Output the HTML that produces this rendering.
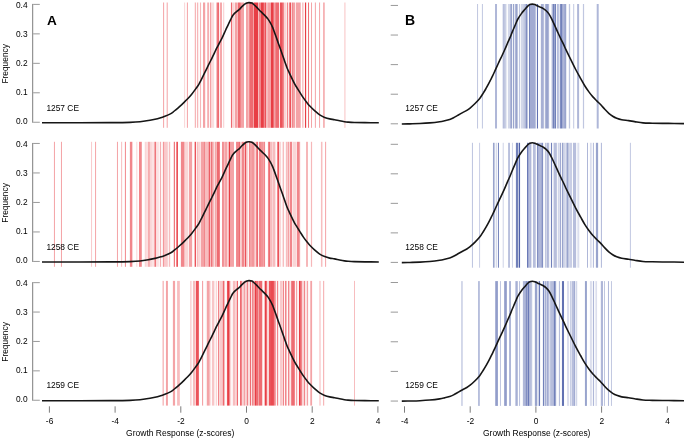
<!DOCTYPE html>
<html lang="en"><head><meta charset="utf-8"><title>Growth response distributions</title>
<style>html,body{margin:0;padding:0;background:#fff;overflow:hidden}svg{display:block;will-change:transform}</style></head>
<body>
<svg width="685" height="439" viewBox="0 0 685 439" font-family="Liberation Sans, Arial, Helvetica, sans-serif">
<rect width="685" height="439" fill="#fff"/>
<g fill="#e5232b"><rect x="163.10" y="2.50" width="1.00" height="125.30" fill-opacity="0.42"/><rect x="166.70" y="2.50" width="1.00" height="125.30" fill-opacity="0.42"/><rect x="184.10" y="2.50" width="1.00" height="125.30" fill-opacity="0.19"/><rect x="186.90" y="2.50" width="1.00" height="125.30" fill-opacity="0.42"/><rect x="194.80" y="2.50" width="1.00" height="125.30" fill-opacity="0.42"/><rect x="196.95" y="2.50" width="1.30" height="125.30" fill-opacity="0.33"/><rect x="199.95" y="2.50" width="1.10" height="125.30" fill-opacity="0.33"/><rect x="203.00" y="2.50" width="2.20" height="125.30" fill-opacity="0.42"/><rect x="207.20" y="2.50" width="1.80" height="125.30" fill-opacity="0.37"/><rect x="209.90" y="2.50" width="1.20" height="125.30" fill-opacity="0.42"/><rect x="211.10" y="2.50" width="3.00" height="125.30" fill-opacity="0.15"/><rect x="216.05" y="2.50" width="0.90" height="125.30" fill-opacity="0.30"/><rect x="217.10" y="2.50" width="2.00" height="125.30" fill-opacity="0.67"/><rect x="220.05" y="2.50" width="1.90" height="125.30" fill-opacity="0.42"/><rect x="222.95" y="2.50" width="1.30" height="125.30" fill-opacity="0.19"/><rect x="230.00" y="2.50" width="1.00" height="125.30" fill-opacity="0.04"/><rect x="231.00" y="2.50" width="1.00" height="125.30" fill-opacity="0.67"/><rect x="232.00" y="2.50" width="1.00" height="125.30" fill-opacity="0.19"/><rect x="233.00" y="2.50" width="1.00" height="125.30" fill-opacity="0.19"/><rect x="234.00" y="2.50" width="1.00" height="125.30" fill-opacity="0.13"/><rect x="235.00" y="2.50" width="1.00" height="125.30" fill-opacity="0.42"/><rect x="236.00" y="2.50" width="1.00" height="125.30" fill-opacity="0.42"/><rect x="237.00" y="2.50" width="1.00" height="125.30" fill-opacity="0.30"/><rect x="238.00" y="2.50" width="1.00" height="125.30" fill-opacity="0.67"/><rect x="239.00" y="2.50" width="1.00" height="125.30" fill-opacity="0.67"/><rect x="240.00" y="2.50" width="1.00" height="125.30" fill-opacity="0.55"/><rect x="241.00" y="2.50" width="1.00" height="125.30" fill-opacity="0.42"/><rect x="242.00" y="2.50" width="1.00" height="125.30" fill-opacity="0.42"/><rect x="243.00" y="2.50" width="1.00" height="125.30" fill-opacity="0.42"/><rect x="246.00" y="2.50" width="1.00" height="125.30" fill-opacity="0.42"/><rect x="247.00" y="2.50" width="1.00" height="125.30" fill-opacity="0.42"/><rect x="248.00" y="2.50" width="1.00" height="125.30" fill-opacity="0.30"/><rect x="249.00" y="2.50" width="1.00" height="125.30" fill-opacity="0.55"/><rect x="250.00" y="2.50" width="1.00" height="125.30" fill-opacity="0.67"/><rect x="251.00" y="2.50" width="1.00" height="125.30" fill-opacity="0.67"/><rect x="252.00" y="2.50" width="1.00" height="125.30" fill-opacity="0.67"/><rect x="253.00" y="2.50" width="1.00" height="125.30" fill-opacity="0.42"/><rect x="254.00" y="2.50" width="1.00" height="125.30" fill-opacity="0.88"/><rect x="255.00" y="2.50" width="1.00" height="125.30" fill-opacity="0.88"/><rect x="256.00" y="2.50" width="1.00" height="125.30" fill-opacity="0.88"/><rect x="257.00" y="2.50" width="1.00" height="125.30" fill-opacity="0.88"/><rect x="258.00" y="2.50" width="1.00" height="125.30" fill-opacity="0.30"/><rect x="259.00" y="2.50" width="1.00" height="125.30" fill-opacity="0.55"/><rect x="260.00" y="2.50" width="1.00" height="125.30" fill-opacity="0.55"/><rect x="261.00" y="2.50" width="1.00" height="125.30" fill-opacity="0.88"/><rect x="262.00" y="2.50" width="1.00" height="125.30" fill-opacity="0.88"/><rect x="263.00" y="2.50" width="1.00" height="125.30" fill-opacity="0.78"/><rect x="264.00" y="2.50" width="1.00" height="125.30" fill-opacity="0.55"/><rect x="265.00" y="2.50" width="1.00" height="125.30" fill-opacity="0.78"/><rect x="266.00" y="2.50" width="1.00" height="125.30" fill-opacity="0.30"/><rect x="267.00" y="2.50" width="1.00" height="125.30" fill-opacity="0.30"/><rect x="268.00" y="2.50" width="1.00" height="125.30" fill-opacity="0.42"/><rect x="269.00" y="2.50" width="1.00" height="125.30" fill-opacity="0.42"/><rect x="270.00" y="2.50" width="1.00" height="125.30" fill-opacity="0.42"/><rect x="271.00" y="2.50" width="1.00" height="125.30" fill-opacity="0.88"/><rect x="272.00" y="2.50" width="1.00" height="125.30" fill-opacity="0.88"/><rect x="273.00" y="2.50" width="1.00" height="125.30" fill-opacity="0.67"/><rect x="274.00" y="2.50" width="1.00" height="125.30" fill-opacity="0.42"/><rect x="275.00" y="2.50" width="1.00" height="125.30" fill-opacity="0.55"/><rect x="276.00" y="2.50" width="1.00" height="125.30" fill-opacity="0.67"/><rect x="277.00" y="2.50" width="1.00" height="125.30" fill-opacity="0.67"/><rect x="278.00" y="2.50" width="1.00" height="125.30" fill-opacity="0.67"/><rect x="279.00" y="2.50" width="1.00" height="125.30" fill-opacity="0.10"/><rect x="280.00" y="2.50" width="1.00" height="125.30" fill-opacity="0.78"/><rect x="281.00" y="2.50" width="1.00" height="125.30" fill-opacity="0.78"/><rect x="282.00" y="2.50" width="1.00" height="125.30" fill-opacity="0.67"/><rect x="283.00" y="2.50" width="1.00" height="125.30" fill-opacity="0.55"/><rect x="284.00" y="2.50" width="1.00" height="125.30" fill-opacity="0.19"/><rect x="285.00" y="2.50" width="1.00" height="125.30" fill-opacity="0.19"/><rect x="286.00" y="2.50" width="1.00" height="125.30" fill-opacity="0.10"/><rect x="287.00" y="2.50" width="1.00" height="125.30" fill-opacity="0.55"/><rect x="288.00" y="2.50" width="1.00" height="125.30" fill-opacity="0.10"/><rect x="289.00" y="2.50" width="1.00" height="125.30" fill-opacity="0.55"/><rect x="290.00" y="2.50" width="1.00" height="125.30" fill-opacity="0.78"/><rect x="291.00" y="2.50" width="1.00" height="125.30" fill-opacity="0.19"/><rect x="292.00" y="2.50" width="1.00" height="125.30" fill-opacity="0.55"/><rect x="293.00" y="2.50" width="1.00" height="125.30" fill-opacity="0.42"/><rect x="294.00" y="2.50" width="1.00" height="125.30" fill-opacity="0.42"/><rect x="295.00" y="2.50" width="1.00" height="125.30" fill-opacity="0.10"/><rect x="296.00" y="2.50" width="1.00" height="125.30" fill-opacity="0.42"/><rect x="297.00" y="2.50" width="1.00" height="125.30" fill-opacity="0.42"/><rect x="298.00" y="2.50" width="1.00" height="125.30" fill-opacity="0.42"/><rect x="299.00" y="2.50" width="1.00" height="125.30" fill-opacity="0.42"/><rect x="300.00" y="2.50" width="1.00" height="125.30" fill-opacity="0.30"/><rect x="302.38" y="2.50" width="1.00" height="125.30" fill-opacity="0.42"/><rect x="304.96" y="2.50" width="1.20" height="125.30" fill-opacity="0.88"/><rect x="308.04" y="2.50" width="1.00" height="125.30" fill-opacity="0.67"/><rect x="311.02" y="2.50" width="1.00" height="125.30" fill-opacity="0.42"/><rect x="314.89" y="2.50" width="1.00" height="125.30" fill-opacity="0.42"/><rect x="319.07" y="2.50" width="1.00" height="125.30" fill-opacity="0.42"/><rect x="323.18" y="2.50" width="1.50" height="125.30" fill-opacity="0.42"/><rect x="344.14" y="2.50" width="1.50" height="125.30" fill-opacity="0.19"/></g>
<text x="27.6" y="124.05" font-size="8.4" text-anchor="end" fill="#000">0.0</text>
<text x="27.6" y="95.05" font-size="8.4" text-anchor="end" fill="#000">0.1</text>
<text x="27.6" y="66.05" font-size="8.4" text-anchor="end" fill="#000">0.2</text>
<text x="27.6" y="37.04" font-size="8.4" text-anchor="end" fill="#000">0.3</text>
<text x="27.6" y="8.04" font-size="8.4" text-anchor="end" fill="#000">0.4</text>
<path d="M33.2 122.25H39.8M33.2 92.79H39.8M33.2 63.33H39.8M33.2 33.86H39.8M33.2 4.40H39.8" stroke="#9a9a9a" stroke-width="1" fill="none"/>
<path d="M32.7 3.90V122.75" stroke="#7d7d7d" stroke-width="1" fill="none"/>
<text transform="translate(8.0 63.83) rotate(-90)" font-size="8.4" text-anchor="middle" fill="#000">Frequency</text>
<path d="M42.00 122.75C48.33 122.75 68.67 122.77 80.00 122.75C91.33 122.73 101.67 122.71 110.00 122.65C118.33 122.59 125.00 122.54 130.00 122.40C135.00 122.26 136.67 122.17 140.00 121.80C143.33 121.43 147.50 120.63 150.00 120.20C152.50 119.77 153.35 119.58 155.00 119.20C156.65 118.82 158.25 118.40 159.90 117.90C161.55 117.40 163.23 116.83 164.90 116.20C166.57 115.57 168.58 114.75 169.90 114.10C171.22 113.45 171.82 113.02 172.80 112.30C173.78 111.58 174.63 110.80 175.80 109.80C176.97 108.80 178.47 107.50 179.80 106.30C181.13 105.10 182.48 103.85 183.80 102.60C185.12 101.35 186.38 100.20 187.70 98.80C189.02 97.40 190.37 95.85 191.70 94.20C193.03 92.55 194.53 90.50 195.70 88.90C196.87 87.30 197.87 85.95 198.70 84.60C199.53 83.25 199.92 82.33 200.70 80.80C201.48 79.27 202.53 77.13 203.40 75.40C204.27 73.67 205.07 72.10 205.90 70.40C206.73 68.70 207.50 67.03 208.40 65.20C209.30 63.37 210.37 61.28 211.30 59.40C212.23 57.52 213.15 55.68 214.00 53.90C214.85 52.12 215.58 50.35 216.40 48.70C217.22 47.05 217.98 45.72 218.90 44.00C219.82 42.28 220.98 40.25 221.90 38.40C222.82 36.55 223.57 34.73 224.40 32.90C225.23 31.07 226.07 29.18 226.90 27.40C227.73 25.62 228.65 23.77 229.40 22.20C230.15 20.63 230.87 19.07 231.40 18.00C231.93 16.93 232.08 16.57 232.60 15.80C233.12 15.03 233.77 14.17 234.50 13.40C235.23 12.63 236.18 11.87 237.00 11.20C237.82 10.53 238.58 10.17 239.40 9.40C240.22 8.63 241.07 7.45 241.90 6.60C242.73 5.75 243.57 4.92 244.40 4.30C245.23 3.68 246.12 3.18 246.90 2.90C247.68 2.62 248.27 2.57 249.10 2.60C249.93 2.63 251.03 2.70 251.90 3.10C252.77 3.50 253.48 4.28 254.30 5.00C255.12 5.72 255.95 6.53 256.80 7.40C257.65 8.27 258.50 9.28 259.40 10.20C260.30 11.12 261.27 12.00 262.20 12.90C263.13 13.80 264.05 14.60 265.00 15.60C265.95 16.60 267.00 17.68 267.90 18.90C268.80 20.12 269.65 21.57 270.40 22.90C271.15 24.23 271.85 25.68 272.40 26.90C272.95 28.12 273.10 28.60 273.70 30.20C274.30 31.80 275.22 34.30 276.00 36.50C276.78 38.70 277.65 41.28 278.40 43.40C279.15 45.52 279.82 47.28 280.50 49.20C281.18 51.12 281.77 52.78 282.50 54.90C283.23 57.02 284.12 59.67 284.90 61.90C285.68 64.13 286.45 66.43 287.20 68.30C287.95 70.17 288.53 71.25 289.40 73.10C290.27 74.95 291.48 77.52 292.40 79.40C293.32 81.28 294.22 83.13 294.90 84.40C295.58 85.67 295.67 85.67 296.50 87.00C297.33 88.33 298.75 90.58 299.90 92.40C301.05 94.22 302.23 96.20 303.40 97.90C304.57 99.60 305.83 101.25 306.90 102.60C307.97 103.95 308.48 104.62 309.80 106.00C311.12 107.38 313.15 109.42 314.80 110.90C316.45 112.38 318.05 113.82 319.70 114.90C321.35 115.98 323.03 116.73 324.70 117.40C326.37 118.07 328.05 118.52 329.70 118.90C331.35 119.28 332.95 119.38 334.60 119.70C336.25 120.02 337.95 120.47 339.60 120.80C341.25 121.13 343.10 121.48 344.50 121.70C345.90 121.92 346.37 121.97 348.00 122.10C349.63 122.22 351.47 122.36 354.30 122.45C357.13 122.54 360.92 122.60 365.00 122.65C369.08 122.70 376.50 122.73 378.80 122.75" stroke="#161616" stroke-width="1.6" fill="none" stroke-linejoin="round"/>
<text x="46.4" y="110.90" font-size="8.4" fill="#000">1257 CE</text>
<g fill="#3c50a0"><rect x="477.05" y="4.00" width="1.00" height="124.50" fill-opacity="0.32"/><rect x="481.91" y="4.00" width="1.00" height="124.50" fill-opacity="0.32"/><rect x="495.02" y="4.00" width="1.99" height="124.50" fill-opacity="0.41"/><rect x="502.00" y="4.00" width="1.00" height="124.50" fill-opacity="0.12"/><rect x="503.00" y="4.00" width="1.00" height="124.50" fill-opacity="0.37"/><rect x="504.00" y="4.00" width="1.00" height="124.50" fill-opacity="0.32"/><rect x="505.00" y="4.00" width="1.00" height="124.50" fill-opacity="0.27"/><rect x="506.00" y="4.00" width="1.00" height="124.50" fill-opacity="0.12"/><rect x="507.00" y="4.00" width="1.00" height="124.50" fill-opacity="0.02"/><rect x="508.00" y="4.00" width="1.00" height="124.50" fill-opacity="0.23"/><rect x="509.00" y="4.00" width="1.00" height="124.50" fill-opacity="0.23"/><rect x="510.00" y="4.00" width="1.00" height="124.50" fill-opacity="0.41"/><rect x="511.00" y="4.00" width="1.00" height="124.50" fill-opacity="0.52"/><rect x="512.00" y="4.00" width="1.00" height="124.50" fill-opacity="0.07"/><rect x="513.00" y="4.00" width="1.00" height="124.50" fill-opacity="0.52"/><rect x="514.00" y="4.00" width="1.00" height="124.50" fill-opacity="0.12"/><rect x="515.00" y="4.00" width="1.00" height="124.50" fill-opacity="0.41"/><rect x="516.00" y="4.00" width="1.00" height="124.50" fill-opacity="0.52"/><rect x="517.00" y="4.00" width="1.00" height="124.50" fill-opacity="0.32"/><rect x="518.00" y="4.00" width="1.00" height="124.50" fill-opacity="0.02"/><rect x="519.00" y="4.00" width="1.00" height="124.50" fill-opacity="0.32"/><rect x="520.00" y="4.00" width="1.00" height="124.50" fill-opacity="0.05"/><rect x="521.00" y="4.00" width="1.00" height="124.50" fill-opacity="0.23"/><rect x="522.00" y="4.00" width="1.00" height="124.50" fill-opacity="0.23"/><rect x="523.00" y="4.00" width="1.00" height="124.50" fill-opacity="0.27"/><rect x="524.00" y="4.00" width="1.00" height="124.50" fill-opacity="0.32"/><rect x="525.00" y="4.00" width="1.00" height="124.50" fill-opacity="0.41"/><rect x="526.00" y="4.00" width="1.00" height="124.50" fill-opacity="0.64"/><rect x="527.00" y="4.00" width="1.00" height="124.50" fill-opacity="0.32"/><rect x="528.00" y="4.00" width="1.00" height="124.50" fill-opacity="0.02"/><rect x="529.00" y="4.00" width="1.00" height="124.50" fill-opacity="0.72"/><rect x="530.00" y="4.00" width="1.00" height="124.50" fill-opacity="0.48"/><rect x="531.00" y="4.00" width="1.00" height="124.50" fill-opacity="0.48"/><rect x="532.00" y="4.00" width="1.00" height="124.50" fill-opacity="0.48"/><rect x="533.00" y="4.00" width="1.00" height="124.50" fill-opacity="0.48"/><rect x="534.00" y="4.00" width="1.00" height="124.50" fill-opacity="0.48"/><rect x="535.00" y="4.00" width="1.00" height="124.50" fill-opacity="0.32"/><rect x="536.00" y="4.00" width="1.00" height="124.50" fill-opacity="0.07"/><rect x="537.00" y="4.00" width="1.00" height="124.50" fill-opacity="0.81"/><rect x="538.00" y="4.00" width="1.00" height="124.50" fill-opacity="0.02"/><rect x="540.00" y="4.00" width="1.00" height="124.50" fill-opacity="0.07"/><rect x="541.00" y="4.00" width="1.00" height="124.50" fill-opacity="0.45"/><rect x="542.00" y="4.00" width="1.00" height="124.50" fill-opacity="0.45"/><rect x="543.00" y="4.00" width="1.00" height="124.50" fill-opacity="0.37"/><rect x="544.00" y="4.00" width="1.00" height="124.50" fill-opacity="0.07"/><rect x="545.00" y="4.00" width="1.00" height="124.50" fill-opacity="0.41"/><rect x="546.00" y="4.00" width="1.00" height="124.50" fill-opacity="0.52"/><rect x="547.00" y="4.00" width="1.00" height="124.50" fill-opacity="0.52"/><rect x="548.00" y="4.00" width="1.00" height="124.50" fill-opacity="0.41"/><rect x="549.00" y="4.00" width="1.00" height="124.50" fill-opacity="0.05"/><rect x="551.00" y="4.00" width="1.00" height="124.50" fill-opacity="0.16"/><rect x="552.00" y="4.00" width="1.00" height="124.50" fill-opacity="0.41"/><rect x="553.00" y="4.00" width="1.00" height="124.50" fill-opacity="0.72"/><rect x="554.00" y="4.00" width="1.00" height="124.50" fill-opacity="0.52"/><rect x="555.00" y="4.00" width="1.00" height="124.50" fill-opacity="0.72"/><rect x="556.00" y="4.00" width="1.00" height="124.50" fill-opacity="0.05"/><rect x="557.00" y="4.00" width="1.00" height="124.50" fill-opacity="0.37"/><rect x="558.00" y="4.00" width="1.00" height="124.50" fill-opacity="0.32"/><rect x="559.00" y="4.00" width="1.00" height="124.50" fill-opacity="0.16"/><rect x="560.00" y="4.00" width="1.00" height="124.50" fill-opacity="0.64"/><rect x="561.00" y="4.00" width="1.00" height="124.50" fill-opacity="0.72"/><rect x="562.00" y="4.00" width="1.00" height="124.50" fill-opacity="0.48"/><rect x="563.00" y="4.00" width="1.00" height="124.50" fill-opacity="0.41"/><rect x="564.00" y="4.00" width="1.00" height="124.50" fill-opacity="0.48"/><rect x="565.00" y="4.00" width="1.00" height="124.50" fill-opacity="0.52"/><rect x="566.00" y="4.00" width="1.00" height="124.50" fill-opacity="0.12"/><rect x="568.85" y="4.00" width="1.30" height="124.50" fill-opacity="0.32"/><rect x="573.20" y="4.00" width="1.00" height="124.50" fill-opacity="0.32"/><rect x="577.10" y="4.00" width="2.00" height="124.50" fill-opacity="0.41"/><rect x="582.90" y="4.00" width="1.20" height="124.50" fill-opacity="0.32"/><rect x="596.70" y="4.00" width="2.00" height="124.50" fill-opacity="0.41"/></g>
<path d="M390.7 123.80H398M390.7 94.21H398M390.7 64.62H398M390.7 35.04H398M390.7 5.45H398" stroke="#9a9a9a" stroke-width="1" fill="none"/>
<path d="M401.80 124.00C403.15 123.97 406.88 123.92 409.90 123.85C412.92 123.77 416.58 123.71 419.90 123.55C423.22 123.39 426.50 123.21 429.80 122.90C433.10 122.59 437.22 122.07 439.70 121.70C442.18 121.33 443.03 121.08 444.70 120.70C446.37 120.32 448.22 119.90 449.70 119.40C451.18 118.90 452.28 118.37 453.60 117.70C454.92 117.03 456.10 116.25 457.60 115.40C459.10 114.55 461.07 113.43 462.60 112.60C464.13 111.77 465.60 111.12 466.80 110.40C468.00 109.68 468.47 109.40 469.80 108.30C471.13 107.20 473.15 105.43 474.80 103.80C476.45 102.17 478.27 100.32 479.70 98.50C481.13 96.68 482.37 94.53 483.40 92.90C484.43 91.27 485.07 90.15 485.90 88.70C486.73 87.25 487.58 85.73 488.40 84.20C489.22 82.67 490.10 80.88 490.80 79.50C491.50 78.12 491.95 77.25 492.60 75.90C493.25 74.55 493.93 73.07 494.70 71.40C495.47 69.73 496.38 67.68 497.20 65.90C498.02 64.12 498.78 62.43 499.60 60.70C500.42 58.97 501.27 57.28 502.10 55.50C502.93 53.72 503.67 52.12 504.60 50.00C505.53 47.88 506.82 44.82 507.70 42.80C508.58 40.78 509.17 39.63 509.90 37.90C510.63 36.17 511.35 34.22 512.10 32.40C512.85 30.58 513.68 28.68 514.40 27.00C515.12 25.32 515.82 23.63 516.40 22.30C516.98 20.97 517.07 20.45 517.90 19.00C518.73 17.55 520.25 15.18 521.40 13.60C522.55 12.02 523.73 10.75 524.80 9.50C525.87 8.25 526.97 6.92 527.80 6.10C528.63 5.28 529.05 4.93 529.80 4.60C530.55 4.27 531.47 4.10 532.30 4.10C533.13 4.10 533.90 4.28 534.80 4.60C535.70 4.92 536.72 5.55 537.70 6.00C538.68 6.45 539.77 6.87 540.70 7.30C541.63 7.73 542.43 8.07 543.30 8.60C544.17 9.13 544.97 9.62 545.90 10.50C546.83 11.38 547.90 12.42 548.90 13.90C549.90 15.38 550.90 17.40 551.90 19.40C552.90 21.40 553.92 23.75 554.90 25.90C555.88 28.05 556.82 30.15 557.80 32.30C558.78 34.45 559.80 36.70 560.80 38.80C561.80 40.90 562.97 43.13 563.80 44.90C564.63 46.67 564.63 46.95 565.80 49.40C566.97 51.85 569.15 56.25 570.80 59.60C572.45 62.95 574.05 66.33 575.70 69.50C577.35 72.67 579.17 75.85 580.70 78.60C582.23 81.35 583.53 83.78 584.90 86.00C586.27 88.22 587.57 90.08 588.90 91.90C590.23 93.72 591.58 95.40 592.90 96.90C594.22 98.40 595.48 99.58 596.80 100.90C598.12 102.22 599.47 103.40 600.80 104.80C602.13 106.20 603.47 107.88 604.80 109.30C606.13 110.72 607.48 112.15 608.80 113.30C610.12 114.45 611.38 115.38 612.70 116.20C614.02 117.02 615.20 117.62 616.70 118.20C618.20 118.78 619.72 119.30 621.70 119.70C623.68 120.10 626.45 120.28 628.60 120.60C630.75 120.92 632.20 121.22 634.60 121.60C637.00 121.98 640.05 122.63 643.00 122.90C645.95 123.17 648.07 123.12 652.30 123.20C656.53 123.28 663.12 123.33 668.40 123.40C673.68 123.47 681.40 123.57 684.00 123.60" stroke="#161616" stroke-width="1.6" fill="none" stroke-linejoin="round"/>
<text x="405.2" y="110.90" font-size="8.4" fill="#000">1257 CE</text>
<g fill="#e5232b"><rect x="53.94" y="141.80" width="1.00" height="125.00" fill-opacity="0.42"/><rect x="60.96" y="141.80" width="1.00" height="125.00" fill-opacity="0.42"/><rect x="91.05" y="141.80" width="1.00" height="125.00" fill-opacity="0.24"/><rect x="95.07" y="141.80" width="1.00" height="125.00" fill-opacity="0.42"/><rect x="116.96" y="141.80" width="1.00" height="125.00" fill-opacity="0.42"/><rect x="121.13" y="141.80" width="1.00" height="125.00" fill-opacity="0.30"/><rect x="124.91" y="141.80" width="1.00" height="125.00" fill-opacity="0.55"/><rect x="129.87" y="141.80" width="2.48" height="125.00" fill-opacity="0.55"/><rect x="136.33" y="141.80" width="1.00" height="125.00" fill-opacity="0.19"/><rect x="139.01" y="141.80" width="2.78" height="125.00" fill-opacity="0.55"/><rect x="144.74" y="141.80" width="1.24" height="125.00" fill-opacity="0.19"/><rect x="145.98" y="141.80" width="1.99" height="125.00" fill-opacity="0.15"/><rect x="148.11" y="141.80" width="1.69" height="125.00" fill-opacity="0.42"/><rect x="149.95" y="141.80" width="1.74" height="125.00" fill-opacity="0.19"/><rect x="151.68" y="141.80" width="2.48" height="125.00" fill-opacity="0.13"/><rect x="154.41" y="141.80" width="1.64" height="125.00" fill-opacity="0.62"/><rect x="156.15" y="141.80" width="2.73" height="125.00" fill-opacity="0.13"/><rect x="159.87" y="141.80" width="1.24" height="125.00" fill-opacity="0.37"/><rect x="162.85" y="141.80" width="1.24" height="125.00" fill-opacity="0.47"/><rect x="164.09" y="141.80" width="3.72" height="125.00" fill-opacity="0.24"/><rect x="168.81" y="141.80" width="1.39" height="125.00" fill-opacity="0.30"/><rect x="173.77" y="141.80" width="1.24" height="125.00" fill-opacity="0.62"/><rect x="176.00" y="141.80" width="1.00" height="125.00" fill-opacity="0.55"/><rect x="177.00" y="141.80" width="1.00" height="125.00" fill-opacity="0.78"/><rect x="180.00" y="141.80" width="1.00" height="125.00" fill-opacity="0.06"/><rect x="181.00" y="141.80" width="1.00" height="125.00" fill-opacity="0.55"/><rect x="182.00" y="141.80" width="1.00" height="125.00" fill-opacity="0.55"/><rect x="183.00" y="141.80" width="1.00" height="125.00" fill-opacity="0.55"/><rect x="184.00" y="141.80" width="1.00" height="125.00" fill-opacity="0.30"/><rect x="185.00" y="141.80" width="1.00" height="125.00" fill-opacity="0.19"/><rect x="186.00" y="141.80" width="1.00" height="125.00" fill-opacity="0.19"/><rect x="187.00" y="141.80" width="1.00" height="125.00" fill-opacity="0.19"/><rect x="188.00" y="141.80" width="1.00" height="125.00" fill-opacity="0.06"/><rect x="189.00" y="141.80" width="1.00" height="125.00" fill-opacity="0.42"/><rect x="190.00" y="141.80" width="1.00" height="125.00" fill-opacity="0.42"/><rect x="191.00" y="141.80" width="1.00" height="125.00" fill-opacity="0.42"/><rect x="192.00" y="141.80" width="1.00" height="125.00" fill-opacity="0.06"/><rect x="194.00" y="141.80" width="1.00" height="125.00" fill-opacity="0.30"/><rect x="195.00" y="141.80" width="1.00" height="125.00" fill-opacity="0.78"/><rect x="196.00" y="141.80" width="1.00" height="125.00" fill-opacity="0.06"/><rect x="197.00" y="141.80" width="1.00" height="125.00" fill-opacity="0.30"/><rect x="198.00" y="141.80" width="1.00" height="125.00" fill-opacity="0.19"/><rect x="199.00" y="141.80" width="1.00" height="125.00" fill-opacity="0.19"/><rect x="200.00" y="141.80" width="0.99" height="125.00" fill-opacity="0.13"/><rect x="200.99" y="141.80" width="1.99" height="125.00" fill-opacity="0.42"/><rect x="202.98" y="141.80" width="0.99" height="125.00" fill-opacity="0.42"/><rect x="203.97" y="141.80" width="0.99" height="125.00" fill-opacity="0.55"/><rect x="204.96" y="141.80" width="3.72" height="125.00" fill-opacity="0.30"/><rect x="208.68" y="141.80" width="1.24" height="125.00" fill-opacity="0.78"/><rect x="209.93" y="141.80" width="0.74" height="125.00" fill-opacity="0.10"/><rect x="210.67" y="141.80" width="1.24" height="125.00" fill-opacity="0.67"/><rect x="211.91" y="141.80" width="1.74" height="125.00" fill-opacity="0.42"/><rect x="213.65" y="141.80" width="1.24" height="125.00" fill-opacity="0.10"/><rect x="214.89" y="141.80" width="0.99" height="125.00" fill-opacity="0.42"/><rect x="215.88" y="141.80" width="0.99" height="125.00" fill-opacity="0.30"/><rect x="216.87" y="141.80" width="2.98" height="125.00" fill-opacity="0.67"/><rect x="222.08" y="141.80" width="1.74" height="125.00" fill-opacity="0.55"/><rect x="223.82" y="141.80" width="0.99" height="125.00" fill-opacity="0.30"/><rect x="224.81" y="141.80" width="2.23" height="125.00" fill-opacity="0.42"/><rect x="227.05" y="141.80" width="1.74" height="125.00" fill-opacity="0.19"/><rect x="228.78" y="141.80" width="1.24" height="125.00" fill-opacity="0.88"/><rect x="230.02" y="141.80" width="3.97" height="125.00" fill-opacity="0.42"/><rect x="236.05" y="141.80" width="2.98" height="125.00" fill-opacity="0.55"/><rect x="239.03" y="141.80" width="0.99" height="125.00" fill-opacity="0.67"/><rect x="240.02" y="141.80" width="1.74" height="125.00" fill-opacity="0.19"/><rect x="241.76" y="141.80" width="2.23" height="125.00" fill-opacity="0.55"/><rect x="244.00" y="141.80" width="1.00" height="125.00" fill-opacity="0.30"/><rect x="245.00" y="141.80" width="1.00" height="125.00" fill-opacity="0.78"/><rect x="246.00" y="141.80" width="1.00" height="125.00" fill-opacity="0.30"/><rect x="247.00" y="141.80" width="1.00" height="125.00" fill-opacity="0.19"/><rect x="248.00" y="141.80" width="1.00" height="125.00" fill-opacity="0.04"/><rect x="249.00" y="141.80" width="1.00" height="125.00" fill-opacity="0.55"/><rect x="250.00" y="141.80" width="1.00" height="125.00" fill-opacity="0.42"/><rect x="251.00" y="141.80" width="1.00" height="125.00" fill-opacity="0.42"/><rect x="252.00" y="141.80" width="1.00" height="125.00" fill-opacity="0.47"/><rect x="253.00" y="141.80" width="1.00" height="125.00" fill-opacity="0.47"/><rect x="254.00" y="141.80" width="1.00" height="125.00" fill-opacity="0.30"/><rect x="255.00" y="141.80" width="1.00" height="125.00" fill-opacity="0.19"/><rect x="256.00" y="141.80" width="1.00" height="125.00" fill-opacity="0.55"/><rect x="257.00" y="141.80" width="1.00" height="125.00" fill-opacity="0.67"/><rect x="258.00" y="141.80" width="1.00" height="125.00" fill-opacity="0.06"/><rect x="259.00" y="141.80" width="1.00" height="125.00" fill-opacity="0.55"/><rect x="260.00" y="141.80" width="1.00" height="125.00" fill-opacity="0.55"/><rect x="261.00" y="141.80" width="1.00" height="125.00" fill-opacity="0.49"/><rect x="262.00" y="141.80" width="1.00" height="125.00" fill-opacity="0.49"/><rect x="263.00" y="141.80" width="1.00" height="125.00" fill-opacity="0.42"/><rect x="264.00" y="141.80" width="1.00" height="125.00" fill-opacity="0.55"/><rect x="265.00" y="141.80" width="1.00" height="125.00" fill-opacity="0.04"/><rect x="267.00" y="141.80" width="1.00" height="125.00" fill-opacity="0.04"/><rect x="268.00" y="141.80" width="1.00" height="125.00" fill-opacity="0.55"/><rect x="269.00" y="141.80" width="1.00" height="125.00" fill-opacity="0.67"/><rect x="270.00" y="141.80" width="1.00" height="125.00" fill-opacity="0.30"/><rect x="271.00" y="141.80" width="1.00" height="125.00" fill-opacity="0.30"/><rect x="272.00" y="141.80" width="1.00" height="125.00" fill-opacity="0.19"/><rect x="273.00" y="141.80" width="1.00" height="125.00" fill-opacity="0.30"/><rect x="274.00" y="141.80" width="1.00" height="125.00" fill-opacity="0.30"/><rect x="275.00" y="141.80" width="1.00" height="125.00" fill-opacity="0.13"/><rect x="276.00" y="141.80" width="1.00" height="125.00" fill-opacity="0.02"/><rect x="277.00" y="141.80" width="1.00" height="125.00" fill-opacity="0.55"/><rect x="278.00" y="141.80" width="1.00" height="125.00" fill-opacity="0.78"/><rect x="279.00" y="141.80" width="1.00" height="125.00" fill-opacity="0.19"/><rect x="280.00" y="141.80" width="1.00" height="125.00" fill-opacity="0.19"/><rect x="281.00" y="141.80" width="1.00" height="125.00" fill-opacity="0.02"/><rect x="282.00" y="141.80" width="1.00" height="125.00" fill-opacity="0.13"/><rect x="283.00" y="141.80" width="1.00" height="125.00" fill-opacity="0.30"/><rect x="284.00" y="141.80" width="1.00" height="125.00" fill-opacity="0.02"/><rect x="285.00" y="141.80" width="1.00" height="125.00" fill-opacity="0.06"/><rect x="286.00" y="141.80" width="1.00" height="125.00" fill-opacity="0.30"/><rect x="287.00" y="141.80" width="1.00" height="125.00" fill-opacity="0.24"/><rect x="288.00" y="141.80" width="1.00" height="125.00" fill-opacity="0.42"/><rect x="289.00" y="141.80" width="1.00" height="125.00" fill-opacity="0.19"/><rect x="290.00" y="141.80" width="1.00" height="125.00" fill-opacity="0.55"/><rect x="291.00" y="141.80" width="1.00" height="125.00" fill-opacity="0.55"/><rect x="292.00" y="141.80" width="1.00" height="125.00" fill-opacity="0.10"/><rect x="293.00" y="141.80" width="1.00" height="125.00" fill-opacity="0.19"/><rect x="294.00" y="141.80" width="1.00" height="125.00" fill-opacity="0.19"/><rect x="295.00" y="141.80" width="1.00" height="125.00" fill-opacity="0.19"/><rect x="296.00" y="141.80" width="1.00" height="125.00" fill-opacity="0.13"/><rect x="297.00" y="141.80" width="1.00" height="125.00" fill-opacity="0.55"/><rect x="298.00" y="141.80" width="1.00" height="125.00" fill-opacity="0.55"/><rect x="299.00" y="141.80" width="1.00" height="125.00" fill-opacity="0.42"/><rect x="300.00" y="141.80" width="1.00" height="125.00" fill-opacity="0.06"/><rect x="306.00" y="141.80" width="2.00" height="125.00" fill-opacity="0.33"/><rect x="310.90" y="141.80" width="1.20" height="125.00" fill-opacity="0.33"/><rect x="320.95" y="141.80" width="1.50" height="125.00" fill-opacity="0.30"/><rect x="325.10" y="141.80" width="1.00" height="125.00" fill-opacity="0.42"/></g>
<text x="27.6" y="263.12" font-size="8.4" text-anchor="end" fill="#000">0.0</text>
<text x="27.6" y="234.08" font-size="8.4" text-anchor="end" fill="#000">0.1</text>
<text x="27.6" y="205.04" font-size="8.4" text-anchor="end" fill="#000">0.2</text>
<text x="27.6" y="176.00" font-size="8.4" text-anchor="end" fill="#000">0.3</text>
<text x="27.6" y="146.96" font-size="8.4" text-anchor="end" fill="#000">0.4</text>
<path d="M33.2 261.45H39.8M33.2 231.95H39.8M33.2 202.45H39.8M33.2 172.95H39.8M33.2 143.45H39.8" stroke="#9a9a9a" stroke-width="1" fill="none"/>
<path d="M32.7 142.95V261.95" stroke="#7d7d7d" stroke-width="1" fill="none"/>
<text transform="translate(8.0 202.95) rotate(-90)" font-size="8.4" text-anchor="middle" fill="#000">Frequency</text>
<path d="M42.00 261.95C48.33 261.95 68.67 261.97 80.00 261.95C91.33 261.93 101.67 261.91 110.00 261.85C118.33 261.79 125.00 261.74 130.00 261.60C135.00 261.46 136.67 261.37 140.00 261.00C143.33 260.63 147.50 259.83 150.00 259.40C152.50 258.97 153.35 258.78 155.00 258.40C156.65 258.02 158.25 257.60 159.90 257.10C161.55 256.60 163.23 256.03 164.90 255.40C166.57 254.77 168.58 253.95 169.90 253.30C171.22 252.65 171.82 252.22 172.80 251.50C173.78 250.78 174.63 250.00 175.80 249.00C176.97 248.00 178.47 246.70 179.80 245.50C181.13 244.30 182.48 243.05 183.80 241.80C185.12 240.55 186.38 239.40 187.70 238.00C189.02 236.60 190.37 235.05 191.70 233.40C193.03 231.75 194.53 229.70 195.70 228.10C196.87 226.50 197.87 225.15 198.70 223.80C199.53 222.45 199.92 221.53 200.70 220.00C201.48 218.47 202.53 216.33 203.40 214.60C204.27 212.87 205.07 211.30 205.90 209.60C206.73 207.90 207.50 206.23 208.40 204.40C209.30 202.57 210.37 200.48 211.30 198.60C212.23 196.72 213.15 194.88 214.00 193.10C214.85 191.32 215.58 189.55 216.40 187.90C217.22 186.25 217.98 184.92 218.90 183.20C219.82 181.48 220.98 179.45 221.90 177.60C222.82 175.75 223.57 173.93 224.40 172.10C225.23 170.27 226.07 168.38 226.90 166.60C227.73 164.82 228.65 162.97 229.40 161.40C230.15 159.83 230.87 158.27 231.40 157.20C231.93 156.13 232.08 155.77 232.60 155.00C233.12 154.23 233.77 153.37 234.50 152.60C235.23 151.83 236.18 151.07 237.00 150.40C237.82 149.73 238.58 149.37 239.40 148.60C240.22 147.83 241.07 146.65 241.90 145.80C242.73 144.95 243.57 144.12 244.40 143.50C245.23 142.88 246.12 142.38 246.90 142.10C247.68 141.82 248.27 141.77 249.10 141.80C249.93 141.83 251.03 141.90 251.90 142.30C252.77 142.70 253.48 143.48 254.30 144.20C255.12 144.92 255.95 145.73 256.80 146.60C257.65 147.47 258.50 148.48 259.40 149.40C260.30 150.32 261.27 151.20 262.20 152.10C263.13 153.00 264.05 153.80 265.00 154.80C265.95 155.80 267.00 156.88 267.90 158.10C268.80 159.32 269.65 160.77 270.40 162.10C271.15 163.43 271.85 164.88 272.40 166.10C272.95 167.32 273.10 167.80 273.70 169.40C274.30 171.00 275.22 173.50 276.00 175.70C276.78 177.90 277.65 180.48 278.40 182.60C279.15 184.72 279.82 186.48 280.50 188.40C281.18 190.32 281.77 191.98 282.50 194.10C283.23 196.22 284.12 198.87 284.90 201.10C285.68 203.33 286.45 205.63 287.20 207.50C287.95 209.37 288.53 210.45 289.40 212.30C290.27 214.15 291.48 216.72 292.40 218.60C293.32 220.48 294.22 222.33 294.90 223.60C295.58 224.87 295.67 224.87 296.50 226.20C297.33 227.53 298.75 229.78 299.90 231.60C301.05 233.42 302.23 235.40 303.40 237.10C304.57 238.80 305.83 240.45 306.90 241.80C307.97 243.15 308.48 243.82 309.80 245.20C311.12 246.58 313.15 248.62 314.80 250.10C316.45 251.58 318.05 253.02 319.70 254.10C321.35 255.18 323.03 255.93 324.70 256.60C326.37 257.27 328.05 257.72 329.70 258.10C331.35 258.48 332.95 258.58 334.60 258.90C336.25 259.22 337.95 259.67 339.60 260.00C341.25 260.33 343.10 260.68 344.50 260.90C345.90 261.12 346.37 261.17 348.00 261.30C349.63 261.42 351.47 261.56 354.30 261.65C357.13 261.74 360.92 261.80 365.00 261.85C369.08 261.90 376.50 261.93 378.80 261.95" stroke="#161616" stroke-width="1.6" fill="none" stroke-linejoin="round"/>
<text x="46.4" y="249.80" font-size="8.4" fill="#000">1258 CE</text>
<g fill="#3c50a0"><rect x="471.93" y="142.80" width="1.00" height="124.90" fill-opacity="0.34"/><rect x="479.08" y="142.80" width="1.00" height="124.90" fill-opacity="0.28"/><rect x="492.98" y="142.80" width="1.59" height="124.90" fill-opacity="0.52"/><rect x="495.76" y="142.80" width="1.00" height="124.90" fill-opacity="0.27"/><rect x="497.94" y="142.80" width="1.00" height="124.90" fill-opacity="0.72"/><rect x="502.71" y="142.80" width="1.00" height="124.90" fill-opacity="0.25"/><rect x="508.18" y="142.80" width="1.69" height="124.90" fill-opacity="0.41"/><rect x="511.95" y="142.80" width="1.00" height="124.90" fill-opacity="0.25"/><rect x="515.00" y="142.80" width="1.00" height="124.90" fill-opacity="0.07"/><rect x="516.00" y="142.80" width="1.00" height="124.90" fill-opacity="0.72"/><rect x="517.00" y="142.80" width="1.00" height="124.90" fill-opacity="0.72"/><rect x="518.00" y="142.80" width="1.00" height="124.90" fill-opacity="0.32"/><rect x="519.00" y="142.80" width="1.00" height="124.90" fill-opacity="0.90"/><rect x="520.00" y="142.80" width="1.00" height="124.90" fill-opacity="0.05"/><rect x="527.00" y="142.80" width="1.00" height="124.90" fill-opacity="0.76"/><rect x="528.00" y="142.80" width="1.00" height="124.90" fill-opacity="0.48"/><rect x="529.00" y="142.80" width="1.00" height="124.90" fill-opacity="0.37"/><rect x="530.00" y="142.80" width="1.00" height="124.90" fill-opacity="0.41"/><rect x="531.00" y="142.80" width="1.00" height="124.90" fill-opacity="0.16"/><rect x="532.00" y="142.80" width="1.00" height="124.90" fill-opacity="0.02"/><rect x="533.00" y="142.80" width="1.00" height="124.90" fill-opacity="0.37"/><rect x="534.00" y="142.80" width="1.00" height="124.90" fill-opacity="0.37"/><rect x="535.00" y="142.80" width="1.00" height="124.90" fill-opacity="0.27"/><rect x="536.00" y="142.80" width="1.00" height="124.90" fill-opacity="0.02"/><rect x="537.00" y="142.80" width="1.00" height="124.90" fill-opacity="0.64"/><rect x="538.00" y="142.80" width="1.00" height="124.90" fill-opacity="0.45"/><rect x="539.00" y="142.80" width="1.00" height="124.90" fill-opacity="0.41"/><rect x="540.00" y="142.80" width="1.00" height="124.90" fill-opacity="0.41"/><rect x="541.00" y="142.80" width="1.00" height="124.90" fill-opacity="0.48"/><rect x="542.00" y="142.80" width="1.00" height="124.90" fill-opacity="0.64"/><rect x="543.00" y="142.80" width="1.00" height="124.90" fill-opacity="0.07"/><rect x="544.00" y="142.80" width="1.00" height="124.90" fill-opacity="0.02"/><rect x="545.00" y="142.80" width="1.00" height="124.90" fill-opacity="0.32"/><rect x="546.00" y="142.80" width="1.00" height="124.90" fill-opacity="0.23"/><rect x="547.00" y="142.80" width="1.00" height="124.90" fill-opacity="0.41"/><rect x="548.00" y="142.80" width="1.00" height="124.90" fill-opacity="0.37"/><rect x="549.00" y="142.80" width="1.00" height="124.90" fill-opacity="0.07"/><rect x="550.00" y="142.80" width="1.00" height="124.90" fill-opacity="0.05"/><rect x="551.00" y="142.80" width="1.00" height="124.90" fill-opacity="0.72"/><rect x="552.00" y="142.80" width="1.00" height="124.90" fill-opacity="0.05"/><rect x="553.00" y="142.80" width="1.00" height="124.90" fill-opacity="0.16"/><rect x="554.00" y="142.80" width="1.00" height="124.90" fill-opacity="0.37"/><rect x="555.00" y="142.80" width="1.00" height="124.90" fill-opacity="0.37"/><rect x="556.00" y="142.80" width="1.00" height="124.90" fill-opacity="0.32"/><rect x="557.00" y="142.80" width="1.00" height="124.90" fill-opacity="0.05"/><rect x="558.00" y="142.80" width="1.00" height="124.90" fill-opacity="0.23"/><rect x="559.00" y="142.80" width="1.00" height="124.90" fill-opacity="0.18"/><rect x="560.00" y="142.80" width="1.00" height="124.90" fill-opacity="0.48"/><rect x="561.00" y="142.80" width="1.00" height="124.90" fill-opacity="0.05"/><rect x="562.00" y="142.80" width="1.00" height="124.90" fill-opacity="0.52"/><rect x="563.00" y="142.80" width="1.00" height="124.90" fill-opacity="0.27"/><rect x="564.00" y="142.80" width="1.00" height="124.90" fill-opacity="0.23"/><rect x="565.00" y="142.80" width="1.00" height="124.90" fill-opacity="0.18"/><rect x="566.00" y="142.80" width="1.00" height="124.90" fill-opacity="0.32"/><rect x="567.00" y="142.80" width="1.00" height="124.90" fill-opacity="0.52"/><rect x="568.00" y="142.80" width="1.00" height="124.90" fill-opacity="0.32"/><rect x="569.00" y="142.80" width="1.00" height="124.90" fill-opacity="0.23"/><rect x="570.00" y="142.80" width="1.00" height="124.90" fill-opacity="0.28"/><rect x="571.00" y="142.80" width="1.00" height="124.90" fill-opacity="0.28"/><rect x="572.00" y="142.80" width="1.00" height="124.90" fill-opacity="0.02"/><rect x="573.00" y="142.80" width="1.00" height="124.90" fill-opacity="0.37"/><rect x="574.00" y="142.80" width="1.00" height="124.90" fill-opacity="0.37"/><rect x="575.00" y="142.80" width="1.00" height="124.90" fill-opacity="0.37"/><rect x="576.00" y="142.80" width="1.00" height="124.90" fill-opacity="0.05"/><rect x="577.00" y="142.80" width="1.00" height="124.90" fill-opacity="0.12"/><rect x="578.00" y="142.80" width="1.00" height="124.90" fill-opacity="0.18"/><rect x="579.00" y="142.80" width="1.00" height="124.90" fill-opacity="0.05"/><rect x="587.00" y="142.80" width="1.00" height="124.90" fill-opacity="0.41"/><rect x="589.90" y="142.80" width="1.80" height="124.90" fill-opacity="0.18"/><rect x="592.90" y="142.80" width="1.00" height="124.90" fill-opacity="0.41"/><rect x="595.90" y="142.80" width="2.20" height="124.90" fill-opacity="0.52"/><rect x="600.90" y="142.80" width="1.00" height="124.90" fill-opacity="0.41"/><rect x="629.90" y="142.80" width="1.00" height="124.90" fill-opacity="0.32"/></g>
<path d="M390.7 262.40H398M390.7 232.88H398M390.7 203.35H398M390.7 173.82H398M390.7 144.30H398" stroke="#9a9a9a" stroke-width="1" fill="none"/>
<path d="M401.80 262.60C403.15 262.57 406.88 262.52 409.90 262.45C412.92 262.37 416.58 262.31 419.90 262.15C423.22 261.99 426.50 261.81 429.80 261.50C433.10 261.19 437.22 260.67 439.70 260.30C442.18 259.93 443.03 259.68 444.70 259.30C446.37 258.92 448.22 258.50 449.70 258.00C451.18 257.50 452.28 256.97 453.60 256.30C454.92 255.63 456.10 254.85 457.60 254.00C459.10 253.15 461.07 252.03 462.60 251.20C464.13 250.37 465.60 249.72 466.80 249.00C468.00 248.28 468.47 248.00 469.80 246.90C471.13 245.80 473.15 244.03 474.80 242.40C476.45 240.77 478.27 238.92 479.70 237.10C481.13 235.28 482.37 233.13 483.40 231.50C484.43 229.87 485.07 228.75 485.90 227.30C486.73 225.85 487.58 224.33 488.40 222.80C489.22 221.27 490.10 219.48 490.80 218.10C491.50 216.72 491.95 215.85 492.60 214.50C493.25 213.15 493.93 211.67 494.70 210.00C495.47 208.33 496.38 206.28 497.20 204.50C498.02 202.72 498.78 201.03 499.60 199.30C500.42 197.57 501.27 195.88 502.10 194.10C502.93 192.32 503.67 190.72 504.60 188.60C505.53 186.48 506.82 183.42 507.70 181.40C508.58 179.38 509.17 178.23 509.90 176.50C510.63 174.77 511.35 172.82 512.10 171.00C512.85 169.18 513.68 167.28 514.40 165.60C515.12 163.92 515.82 162.23 516.40 160.90C516.98 159.57 517.07 159.05 517.90 157.60C518.73 156.15 520.25 153.78 521.40 152.20C522.55 150.62 523.73 149.35 524.80 148.10C525.87 146.85 526.97 145.52 527.80 144.70C528.63 143.88 529.05 143.53 529.80 143.20C530.55 142.87 531.47 142.70 532.30 142.70C533.13 142.70 533.90 142.88 534.80 143.20C535.70 143.52 536.72 144.15 537.70 144.60C538.68 145.05 539.77 145.47 540.70 145.90C541.63 146.33 542.43 146.67 543.30 147.20C544.17 147.73 544.97 148.22 545.90 149.10C546.83 149.98 547.90 151.02 548.90 152.50C549.90 153.98 550.90 156.00 551.90 158.00C552.90 160.00 553.92 162.35 554.90 164.50C555.88 166.65 556.82 168.75 557.80 170.90C558.78 173.05 559.80 175.30 560.80 177.40C561.80 179.50 562.97 181.73 563.80 183.50C564.63 185.27 564.63 185.55 565.80 188.00C566.97 190.45 569.15 194.85 570.80 198.20C572.45 201.55 574.05 204.93 575.70 208.10C577.35 211.27 579.17 214.45 580.70 217.20C582.23 219.95 583.53 222.38 584.90 224.60C586.27 226.82 587.57 228.68 588.90 230.50C590.23 232.32 591.58 234.00 592.90 235.50C594.22 237.00 595.48 238.18 596.80 239.50C598.12 240.82 599.47 242.00 600.80 243.40C602.13 244.80 603.47 246.48 604.80 247.90C606.13 249.32 607.48 250.75 608.80 251.90C610.12 253.05 611.38 253.98 612.70 254.80C614.02 255.62 615.20 256.22 616.70 256.80C618.20 257.38 619.72 257.90 621.70 258.30C623.68 258.70 626.45 258.88 628.60 259.20C630.75 259.52 632.20 259.82 634.60 260.20C637.00 260.58 640.05 261.23 643.00 261.50C645.95 261.77 648.07 261.72 652.30 261.80C656.53 261.88 663.12 261.93 668.40 262.00C673.68 262.07 681.40 262.17 684.00 262.20" stroke="#161616" stroke-width="1.6" fill="none" stroke-linejoin="round"/>
<text x="405.2" y="249.80" font-size="8.4" fill="#000">1258 CE</text>
<g fill="#e5232b"><rect x="162.47" y="280.90" width="1.49" height="124.70" fill-opacity="0.30"/><rect x="165.94" y="280.90" width="1.99" height="124.70" fill-opacity="0.42"/><rect x="172.90" y="280.90" width="2.18" height="124.70" fill-opacity="0.42"/><rect x="177.07" y="280.90" width="2.78" height="124.70" fill-opacity="0.30"/><rect x="190.00" y="280.90" width="1.00" height="124.70" fill-opacity="0.19"/><rect x="191.00" y="280.90" width="1.00" height="124.70" fill-opacity="0.13"/><rect x="192.00" y="280.90" width="1.00" height="124.70" fill-opacity="0.02"/><rect x="193.00" y="280.90" width="1.00" height="124.70" fill-opacity="0.30"/><rect x="194.00" y="280.90" width="1.00" height="124.70" fill-opacity="0.30"/><rect x="195.00" y="280.90" width="1.00" height="124.70" fill-opacity="0.19"/><rect x="196.00" y="280.90" width="1.00" height="124.70" fill-opacity="0.78"/><rect x="197.00" y="280.90" width="1.00" height="124.70" fill-opacity="0.78"/><rect x="198.00" y="280.90" width="1.00" height="124.70" fill-opacity="0.67"/><rect x="199.00" y="280.90" width="1.00" height="124.70" fill-opacity="0.02"/><rect x="202.00" y="280.90" width="1.00" height="124.70" fill-opacity="0.42"/><rect x="203.00" y="280.90" width="1.00" height="124.70" fill-opacity="0.06"/><rect x="205.00" y="280.90" width="1.00" height="124.70" fill-opacity="0.02"/><rect x="206.00" y="280.90" width="1.00" height="124.70" fill-opacity="0.10"/><rect x="207.00" y="280.90" width="1.00" height="124.70" fill-opacity="0.42"/><rect x="208.00" y="280.90" width="1.00" height="124.70" fill-opacity="0.42"/><rect x="209.00" y="280.90" width="1.00" height="124.70" fill-opacity="0.30"/><rect x="210.00" y="280.90" width="1.00" height="124.70" fill-opacity="0.13"/><rect x="211.00" y="280.90" width="1.00" height="124.70" fill-opacity="0.02"/><rect x="212.00" y="280.90" width="1.00" height="124.70" fill-opacity="0.26"/><rect x="213.00" y="280.90" width="1.00" height="124.70" fill-opacity="0.26"/><rect x="214.00" y="280.90" width="1.00" height="124.70" fill-opacity="0.10"/><rect x="215.00" y="280.90" width="1.00" height="124.70" fill-opacity="0.06"/><rect x="216.00" y="280.90" width="1.00" height="124.70" fill-opacity="0.19"/><rect x="217.00" y="280.90" width="1.00" height="124.70" fill-opacity="0.02"/><rect x="218.00" y="280.90" width="1.00" height="124.70" fill-opacity="0.55"/><rect x="219.00" y="280.90" width="1.00" height="124.70" fill-opacity="0.19"/><rect x="220.00" y="280.90" width="1.00" height="124.70" fill-opacity="0.24"/><rect x="221.00" y="280.90" width="1.00" height="124.70" fill-opacity="0.24"/><rect x="222.00" y="280.90" width="1.00" height="124.70" fill-opacity="0.30"/><rect x="223.00" y="280.90" width="1.00" height="124.70" fill-opacity="0.67"/><rect x="224.00" y="280.90" width="1.00" height="124.70" fill-opacity="0.30"/><rect x="225.00" y="280.90" width="1.00" height="124.70" fill-opacity="0.02"/><rect x="226.00" y="280.90" width="1.00" height="124.70" fill-opacity="0.06"/><rect x="227.00" y="280.90" width="1.00" height="124.70" fill-opacity="0.78"/><rect x="228.00" y="280.90" width="1.00" height="124.70" fill-opacity="0.88"/><rect x="229.00" y="280.90" width="1.00" height="124.70" fill-opacity="0.55"/><rect x="230.00" y="280.90" width="1.00" height="124.70" fill-opacity="0.19"/><rect x="231.00" y="280.90" width="1.00" height="124.70" fill-opacity="0.04"/><rect x="232.00" y="280.90" width="1.00" height="124.70" fill-opacity="0.06"/><rect x="233.00" y="280.90" width="1.00" height="124.70" fill-opacity="0.30"/><rect x="234.00" y="280.90" width="1.00" height="124.70" fill-opacity="0.30"/><rect x="235.00" y="280.90" width="1.00" height="124.70" fill-opacity="0.19"/><rect x="236.00" y="280.90" width="1.00" height="124.70" fill-opacity="0.24"/><rect x="237.00" y="280.90" width="1.00" height="124.70" fill-opacity="0.67"/><rect x="238.00" y="280.90" width="1.00" height="124.70" fill-opacity="0.02"/><rect x="240.00" y="280.90" width="1.00" height="124.70" fill-opacity="0.67"/><rect x="241.00" y="280.90" width="1.00" height="124.70" fill-opacity="0.55"/><rect x="242.00" y="280.90" width="1.00" height="124.70" fill-opacity="0.19"/><rect x="243.00" y="280.90" width="1.00" height="124.70" fill-opacity="0.24"/><rect x="244.00" y="280.90" width="1.00" height="124.70" fill-opacity="0.42"/><rect x="245.00" y="280.90" width="1.00" height="124.70" fill-opacity="0.19"/><rect x="246.00" y="280.90" width="1.00" height="124.70" fill-opacity="0.24"/><rect x="247.00" y="280.90" width="1.00" height="124.70" fill-opacity="0.55"/><rect x="248.00" y="280.90" width="1.00" height="124.70" fill-opacity="0.15"/><rect x="249.00" y="280.90" width="1.00" height="124.70" fill-opacity="0.15"/><rect x="250.00" y="280.90" width="1.00" height="124.70" fill-opacity="0.67"/><rect x="251.00" y="280.90" width="1.00" height="124.70" fill-opacity="0.13"/><rect x="252.00" y="280.90" width="1.00" height="124.70" fill-opacity="0.55"/><rect x="253.00" y="280.90" width="1.00" height="124.70" fill-opacity="0.42"/><rect x="254.00" y="280.90" width="1.00" height="124.70" fill-opacity="0.42"/><rect x="255.00" y="280.90" width="1.00" height="124.70" fill-opacity="0.88"/><rect x="256.00" y="280.90" width="1.00" height="124.70" fill-opacity="0.67"/><rect x="257.00" y="280.90" width="1.00" height="124.70" fill-opacity="0.67"/><rect x="258.00" y="280.90" width="1.00" height="124.70" fill-opacity="0.42"/><rect x="259.00" y="280.90" width="1.00" height="124.70" fill-opacity="0.67"/><rect x="260.00" y="280.90" width="1.00" height="124.70" fill-opacity="0.67"/><rect x="261.00" y="280.90" width="1.00" height="124.70" fill-opacity="0.67"/><rect x="262.00" y="280.90" width="1.00" height="124.70" fill-opacity="0.19"/><rect x="263.00" y="280.90" width="1.00" height="124.70" fill-opacity="0.02"/><rect x="264.00" y="280.90" width="1.00" height="124.70" fill-opacity="0.30"/><rect x="265.00" y="280.90" width="1.00" height="124.70" fill-opacity="0.88"/><rect x="266.00" y="280.90" width="1.00" height="124.70" fill-opacity="0.67"/><rect x="267.00" y="280.90" width="1.00" height="124.70" fill-opacity="0.19"/><rect x="268.00" y="280.90" width="1.00" height="124.70" fill-opacity="0.19"/><rect x="269.00" y="280.90" width="1.00" height="124.70" fill-opacity="0.78"/><rect x="270.00" y="280.90" width="1.00" height="124.70" fill-opacity="0.78"/><rect x="271.00" y="280.90" width="1.00" height="124.70" fill-opacity="0.82"/><rect x="272.00" y="280.90" width="1.00" height="124.70" fill-opacity="0.82"/><rect x="273.00" y="280.90" width="1.00" height="124.70" fill-opacity="0.78"/><rect x="274.00" y="280.90" width="1.00" height="124.70" fill-opacity="0.55"/><rect x="275.00" y="280.90" width="1.00" height="124.70" fill-opacity="0.42"/><rect x="276.00" y="280.90" width="1.00" height="124.70" fill-opacity="0.04"/><rect x="277.00" y="280.90" width="1.00" height="124.70" fill-opacity="0.55"/><rect x="278.00" y="280.90" width="1.00" height="124.70" fill-opacity="0.10"/><rect x="279.00" y="280.90" width="1.00" height="124.70" fill-opacity="0.02"/><rect x="280.00" y="280.90" width="1.00" height="124.70" fill-opacity="0.24"/><rect x="281.00" y="280.90" width="1.00" height="124.70" fill-opacity="0.24"/><rect x="282.00" y="280.90" width="1.00" height="124.70" fill-opacity="0.19"/><rect x="283.00" y="280.90" width="1.00" height="124.70" fill-opacity="0.55"/><rect x="284.00" y="280.90" width="1.00" height="124.70" fill-opacity="0.04"/><rect x="285.00" y="280.90" width="1.00" height="124.70" fill-opacity="0.55"/><rect x="286.00" y="280.90" width="1.00" height="124.70" fill-opacity="0.30"/><rect x="287.00" y="280.90" width="1.00" height="124.70" fill-opacity="0.02"/><rect x="288.00" y="280.90" width="1.00" height="124.70" fill-opacity="0.55"/><rect x="289.00" y="280.90" width="1.00" height="124.70" fill-opacity="0.24"/><rect x="290.00" y="280.90" width="1.00" height="124.70" fill-opacity="0.10"/><rect x="291.00" y="280.90" width="1.00" height="124.70" fill-opacity="0.55"/><rect x="292.00" y="280.90" width="1.00" height="124.70" fill-opacity="0.67"/><rect x="293.00" y="280.90" width="1.00" height="124.70" fill-opacity="0.67"/><rect x="294.00" y="280.90" width="1.00" height="124.70" fill-opacity="0.55"/><rect x="295.00" y="280.90" width="1.00" height="124.70" fill-opacity="0.04"/><rect x="296.00" y="280.90" width="1.00" height="124.70" fill-opacity="0.42"/><rect x="297.00" y="280.90" width="1.00" height="124.70" fill-opacity="0.10"/><rect x="298.00" y="280.90" width="1.00" height="124.70" fill-opacity="0.06"/><rect x="299.00" y="280.90" width="1.00" height="124.70" fill-opacity="0.88"/><rect x="300.00" y="280.90" width="1.00" height="124.70" fill-opacity="0.67"/><rect x="301.00" y="280.90" width="1.00" height="124.70" fill-opacity="0.55"/><rect x="302.00" y="280.90" width="1.00" height="124.70" fill-opacity="0.19"/><rect x="303.00" y="280.90" width="1.00" height="124.70" fill-opacity="0.19"/><rect x="304.00" y="280.90" width="1.00" height="124.70" fill-opacity="0.55"/><rect x="305.00" y="280.90" width="1.00" height="124.70" fill-opacity="0.10"/><rect x="306.00" y="280.90" width="1.00" height="124.70" fill-opacity="0.13"/><rect x="307.00" y="280.90" width="1.00" height="124.70" fill-opacity="0.42"/><rect x="308.00" y="280.90" width="1.00" height="124.70" fill-opacity="0.04"/><rect x="310.00" y="280.90" width="1.00" height="124.70" fill-opacity="0.30"/><rect x="311.00" y="280.90" width="1.00" height="124.70" fill-opacity="0.42"/><rect x="312.00" y="280.90" width="1.00" height="124.70" fill-opacity="0.04"/><rect x="319.00" y="280.90" width="2.00" height="124.70" fill-opacity="0.17"/><rect x="323.00" y="280.90" width="1.20" height="124.70" fill-opacity="0.33"/><rect x="354.00" y="280.90" width="1.00" height="124.70" fill-opacity="0.30"/></g>
<text x="27.6" y="401.79" font-size="8.4" text-anchor="end" fill="#000">0.0</text>
<text x="27.6" y="372.85" font-size="8.4" text-anchor="end" fill="#000">0.1</text>
<text x="27.6" y="343.91" font-size="8.4" text-anchor="end" fill="#000">0.2</text>
<text x="27.6" y="314.97" font-size="8.4" text-anchor="end" fill="#000">0.3</text>
<text x="27.6" y="286.03" font-size="8.4" text-anchor="end" fill="#000">0.4</text>
<path d="M33.2 400.25H39.8M33.2 370.85H39.8M33.2 341.45H39.8M33.2 312.05H39.8M33.2 282.65H39.8" stroke="#9a9a9a" stroke-width="1" fill="none"/>
<path d="M32.7 282.15V400.75" stroke="#7d7d7d" stroke-width="1" fill="none"/>
<text transform="translate(8.0 341.95) rotate(-90)" font-size="8.4" text-anchor="middle" fill="#000">Frequency</text>
<path d="M42.00 400.75C48.33 400.75 68.67 400.77 80.00 400.75C91.33 400.73 101.67 400.71 110.00 400.65C118.33 400.59 125.00 400.54 130.00 400.40C135.00 400.26 136.67 400.17 140.00 399.80C143.33 399.43 147.50 398.63 150.00 398.20C152.50 397.77 153.35 397.58 155.00 397.20C156.65 396.82 158.25 396.40 159.90 395.90C161.55 395.40 163.23 394.83 164.90 394.20C166.57 393.57 168.58 392.75 169.90 392.10C171.22 391.45 171.82 391.02 172.80 390.30C173.78 389.58 174.63 388.80 175.80 387.80C176.97 386.80 178.47 385.50 179.80 384.30C181.13 383.10 182.48 381.85 183.80 380.60C185.12 379.35 186.38 378.20 187.70 376.80C189.02 375.40 190.37 373.85 191.70 372.20C193.03 370.55 194.53 368.50 195.70 366.90C196.87 365.30 197.87 363.95 198.70 362.60C199.53 361.25 199.92 360.33 200.70 358.80C201.48 357.27 202.53 355.13 203.40 353.40C204.27 351.67 205.07 350.10 205.90 348.40C206.73 346.70 207.50 345.03 208.40 343.20C209.30 341.37 210.37 339.28 211.30 337.40C212.23 335.52 213.15 333.68 214.00 331.90C214.85 330.12 215.58 328.35 216.40 326.70C217.22 325.05 217.98 323.72 218.90 322.00C219.82 320.28 220.98 318.25 221.90 316.40C222.82 314.55 223.57 312.73 224.40 310.90C225.23 309.07 226.07 307.18 226.90 305.40C227.73 303.62 228.65 301.77 229.40 300.20C230.15 298.63 230.87 297.07 231.40 296.00C231.93 294.93 232.08 294.57 232.60 293.80C233.12 293.03 233.77 292.17 234.50 291.40C235.23 290.63 236.18 289.87 237.00 289.20C237.82 288.53 238.58 288.17 239.40 287.40C240.22 286.63 241.07 285.45 241.90 284.60C242.73 283.75 243.57 282.92 244.40 282.30C245.23 281.68 246.12 281.18 246.90 280.90C247.68 280.62 248.27 280.57 249.10 280.60C249.93 280.63 251.03 280.70 251.90 281.10C252.77 281.50 253.48 282.28 254.30 283.00C255.12 283.72 255.95 284.53 256.80 285.40C257.65 286.27 258.50 287.28 259.40 288.20C260.30 289.12 261.27 290.00 262.20 290.90C263.13 291.80 264.05 292.60 265.00 293.60C265.95 294.60 267.00 295.68 267.90 296.90C268.80 298.12 269.65 299.57 270.40 300.90C271.15 302.23 271.85 303.68 272.40 304.90C272.95 306.12 273.10 306.60 273.70 308.20C274.30 309.80 275.22 312.30 276.00 314.50C276.78 316.70 277.65 319.28 278.40 321.40C279.15 323.52 279.82 325.28 280.50 327.20C281.18 329.12 281.77 330.78 282.50 332.90C283.23 335.02 284.12 337.67 284.90 339.90C285.68 342.13 286.45 344.43 287.20 346.30C287.95 348.17 288.53 349.25 289.40 351.10C290.27 352.95 291.48 355.52 292.40 357.40C293.32 359.28 294.22 361.13 294.90 362.40C295.58 363.67 295.67 363.67 296.50 365.00C297.33 366.33 298.75 368.58 299.90 370.40C301.05 372.22 302.23 374.20 303.40 375.90C304.57 377.60 305.83 379.25 306.90 380.60C307.97 381.95 308.48 382.62 309.80 384.00C311.12 385.38 313.15 387.42 314.80 388.90C316.45 390.38 318.05 391.82 319.70 392.90C321.35 393.98 323.03 394.73 324.70 395.40C326.37 396.07 328.05 396.52 329.70 396.90C331.35 397.28 332.95 397.38 334.60 397.70C336.25 398.02 337.95 398.47 339.60 398.80C341.25 399.13 343.10 399.48 344.50 399.70C345.90 399.92 346.37 399.98 348.00 400.10C349.63 400.23 351.47 400.36 354.30 400.45C357.13 400.54 360.92 400.60 365.00 400.65C369.08 400.70 376.50 400.73 378.80 400.75" stroke="#161616" stroke-width="1.6" fill="none" stroke-linejoin="round"/>
<text x="46.4" y="388.40" font-size="8.4" fill="#000">1259 CE</text>
<g fill="#3c50a0"><rect x="461.16" y="281.10" width="1.59" height="124.80" fill-opacity="0.27"/><rect x="478.05" y="281.10" width="1.79" height="124.80" fill-opacity="0.39"/><rect x="495.23" y="281.10" width="2.68" height="124.80" fill-opacity="0.56"/><rect x="499.99" y="281.10" width="0.89" height="124.80" fill-opacity="0.36"/><rect x="504.16" y="281.10" width="2.68" height="124.80" fill-opacity="0.56"/><rect x="509.13" y="281.10" width="1.79" height="124.80" fill-opacity="0.45"/><rect x="515.38" y="281.10" width="2.38" height="124.80" fill-opacity="0.45"/><rect x="519.06" y="281.10" width="0.99" height="124.80" fill-opacity="0.36"/><rect x="522.00" y="281.10" width="1.00" height="124.80" fill-opacity="0.05"/><rect x="523.00" y="281.10" width="1.00" height="124.80" fill-opacity="0.41"/><rect x="524.00" y="281.10" width="1.00" height="124.80" fill-opacity="0.41"/><rect x="525.00" y="281.10" width="1.00" height="124.80" fill-opacity="0.45"/><rect x="526.00" y="281.10" width="1.00" height="124.80" fill-opacity="0.64"/><rect x="527.00" y="281.10" width="1.00" height="124.80" fill-opacity="0.48"/><rect x="528.00" y="281.10" width="1.00" height="124.80" fill-opacity="0.76"/><rect x="529.00" y="281.10" width="1.00" height="124.80" fill-opacity="0.41"/><rect x="530.00" y="281.10" width="1.00" height="124.80" fill-opacity="0.37"/><rect x="531.00" y="281.10" width="1.00" height="124.80" fill-opacity="0.32"/><rect x="532.00" y="281.10" width="1.00" height="124.80" fill-opacity="0.07"/><rect x="534.00" y="281.10" width="1.00" height="124.80" fill-opacity="0.07"/><rect x="535.00" y="281.10" width="1.00" height="124.80" fill-opacity="0.52"/><rect x="536.00" y="281.10" width="1.00" height="124.80" fill-opacity="0.52"/><rect x="537.00" y="281.10" width="1.00" height="124.80" fill-opacity="0.16"/><rect x="538.00" y="281.10" width="1.00" height="124.80" fill-opacity="0.23"/><rect x="539.00" y="281.10" width="1.00" height="124.80" fill-opacity="0.76"/><rect x="540.00" y="281.10" width="1.00" height="124.80" fill-opacity="0.05"/><rect x="542.00" y="281.10" width="1.00" height="124.80" fill-opacity="0.07"/><rect x="543.00" y="281.10" width="1.00" height="124.80" fill-opacity="0.72"/><rect x="544.00" y="281.10" width="1.00" height="124.80" fill-opacity="0.23"/><rect x="545.00" y="281.10" width="1.00" height="124.80" fill-opacity="0.45"/><rect x="546.00" y="281.10" width="1.00" height="124.80" fill-opacity="0.27"/><rect x="547.00" y="281.10" width="1.00" height="124.80" fill-opacity="0.48"/><rect x="548.00" y="281.10" width="1.00" height="124.80" fill-opacity="0.37"/><rect x="549.00" y="281.10" width="1.00" height="124.80" fill-opacity="0.18"/><rect x="550.00" y="281.10" width="1.00" height="124.80" fill-opacity="0.32"/><rect x="551.00" y="281.10" width="1.00" height="124.80" fill-opacity="0.37"/><rect x="552.00" y="281.10" width="1.00" height="124.80" fill-opacity="0.37"/><rect x="553.00" y="281.10" width="1.00" height="124.80" fill-opacity="0.41"/><rect x="554.00" y="281.10" width="1.00" height="124.80" fill-opacity="0.72"/><rect x="555.00" y="281.10" width="1.00" height="124.80" fill-opacity="0.52"/><rect x="556.00" y="281.10" width="1.00" height="124.80" fill-opacity="0.09"/><rect x="557.00" y="281.10" width="1.00" height="124.80" fill-opacity="0.02"/><rect x="558.00" y="281.10" width="1.00" height="124.80" fill-opacity="0.05"/><rect x="559.00" y="281.10" width="1.00" height="124.80" fill-opacity="0.37"/><rect x="560.00" y="281.10" width="1.00" height="124.80" fill-opacity="0.02"/><rect x="561.00" y="281.10" width="1.00" height="124.80" fill-opacity="0.05"/><rect x="562.00" y="281.10" width="1.00" height="124.80" fill-opacity="0.81"/><rect x="563.00" y="281.10" width="1.00" height="124.80" fill-opacity="0.81"/><rect x="564.00" y="281.10" width="1.00" height="124.80" fill-opacity="0.02"/><rect x="567.00" y="281.10" width="1.00" height="124.80" fill-opacity="0.18"/><rect x="568.00" y="281.10" width="1.00" height="124.80" fill-opacity="0.18"/><rect x="569.00" y="281.10" width="1.00" height="124.80" fill-opacity="0.02"/><rect x="570.00" y="281.10" width="1.00" height="124.80" fill-opacity="0.27"/><rect x="571.00" y="281.10" width="1.00" height="124.80" fill-opacity="0.18"/><rect x="572.00" y="281.10" width="1.00" height="124.80" fill-opacity="0.37"/><rect x="573.00" y="281.10" width="1.00" height="124.80" fill-opacity="0.37"/><rect x="574.00" y="281.10" width="1.00" height="124.80" fill-opacity="0.48"/><rect x="575.00" y="281.10" width="1.00" height="124.80" fill-opacity="0.12"/><rect x="576.00" y="281.10" width="1.00" height="124.80" fill-opacity="0.23"/><rect x="577.00" y="281.10" width="1.00" height="124.80" fill-opacity="0.05"/><rect x="584.94" y="281.10" width="1.99" height="124.80" fill-opacity="0.52"/><rect x="589.90" y="281.10" width="1.99" height="124.80" fill-opacity="0.18"/><rect x="592.88" y="281.10" width="1.19" height="124.80" fill-opacity="0.41"/><rect x="595.36" y="281.10" width="1.69" height="124.80" fill-opacity="0.18"/><rect x="600.83" y="281.10" width="2.18" height="124.80" fill-opacity="0.41"/><rect x="604.00" y="281.10" width="0.99" height="124.80" fill-opacity="0.32"/><rect x="607.98" y="281.10" width="0.99" height="124.80" fill-opacity="0.41"/><rect x="610.96" y="281.10" width="0.99" height="124.80" fill-opacity="0.32"/></g>
<path d="M390.7 401.05H398M390.7 371.41H398M390.7 341.77H398M390.7 312.14H398M390.7 282.50H398" stroke="#9a9a9a" stroke-width="1" fill="none"/>
<path d="M401.80 401.15C403.15 401.12 406.88 401.07 409.90 401.00C412.92 400.93 416.58 400.86 419.90 400.70C423.22 400.54 426.50 400.36 429.80 400.05C433.10 399.74 437.22 399.22 439.70 398.85C442.18 398.48 443.03 398.23 444.70 397.85C446.37 397.47 448.22 397.05 449.70 396.55C451.18 396.05 452.28 395.52 453.60 394.85C454.92 394.18 456.10 393.40 457.60 392.55C459.10 391.70 461.07 390.58 462.60 389.75C464.13 388.92 465.60 388.27 466.80 387.55C468.00 386.83 468.47 386.55 469.80 385.45C471.13 384.35 473.15 382.58 474.80 380.95C476.45 379.32 478.27 377.47 479.70 375.65C481.13 373.83 482.37 371.68 483.40 370.05C484.43 368.42 485.07 367.30 485.90 365.85C486.73 364.40 487.58 362.88 488.40 361.35C489.22 359.82 490.10 358.03 490.80 356.65C491.50 355.27 491.95 354.40 492.60 353.05C493.25 351.70 493.93 350.22 494.70 348.55C495.47 346.88 496.38 344.83 497.20 343.05C498.02 341.27 498.78 339.58 499.60 337.85C500.42 336.12 501.27 334.43 502.10 332.65C502.93 330.87 503.67 329.27 504.60 327.15C505.53 325.03 506.82 321.97 507.70 319.95C508.58 317.93 509.17 316.78 509.90 315.05C510.63 313.32 511.35 311.37 512.10 309.55C512.85 307.73 513.68 305.83 514.40 304.15C515.12 302.47 515.82 300.78 516.40 299.45C516.98 298.12 517.07 297.60 517.90 296.15C518.73 294.70 520.25 292.33 521.40 290.75C522.55 289.17 523.73 287.90 524.80 286.65C525.87 285.40 526.97 284.07 527.80 283.25C528.63 282.43 529.05 282.08 529.80 281.75C530.55 281.42 531.47 281.25 532.30 281.25C533.13 281.25 533.90 281.43 534.80 281.75C535.70 282.07 536.72 282.70 537.70 283.15C538.68 283.60 539.77 284.02 540.70 284.45C541.63 284.88 542.43 285.22 543.30 285.75C544.17 286.28 544.97 286.77 545.90 287.65C546.83 288.53 547.90 289.57 548.90 291.05C549.90 292.53 550.90 294.55 551.90 296.55C552.90 298.55 553.92 300.90 554.90 303.05C555.88 305.20 556.82 307.30 557.80 309.45C558.78 311.60 559.80 313.85 560.80 315.95C561.80 318.05 562.97 320.28 563.80 322.05C564.63 323.82 564.63 324.10 565.80 326.55C566.97 329.00 569.15 333.40 570.80 336.75C572.45 340.10 574.05 343.48 575.70 346.65C577.35 349.82 579.17 353.00 580.70 355.75C582.23 358.50 583.53 360.93 584.90 363.15C586.27 365.37 587.57 367.23 588.90 369.05C590.23 370.87 591.58 372.55 592.90 374.05C594.22 375.55 595.48 376.73 596.80 378.05C598.12 379.37 599.47 380.55 600.80 381.95C602.13 383.35 603.47 385.03 604.80 386.45C606.13 387.87 607.48 389.30 608.80 390.45C610.12 391.60 611.38 392.53 612.70 393.35C614.02 394.17 615.20 394.77 616.70 395.35C618.20 395.93 619.72 396.45 621.70 396.85C623.68 397.25 626.45 397.43 628.60 397.75C630.75 398.07 632.20 398.37 634.60 398.75C637.00 399.13 640.05 399.78 643.00 400.05C645.95 400.32 648.07 400.27 652.30 400.35C656.53 400.43 663.12 400.48 668.40 400.55C673.68 400.62 681.40 400.72 684.00 400.75" stroke="#161616" stroke-width="1.6" fill="none" stroke-linejoin="round"/>
<text x="405.2" y="388.40" font-size="8.4" fill="#000">1259 CE</text>
<text x="47.0" y="25.3" font-size="13.6" font-weight="bold" fill="#000">A</text>
<text x="405.0" y="25.2" font-size="14" font-weight="bold" fill="#000">B</text>
<text x="49.60" y="424.2" font-size="8.4" text-anchor="middle" fill="#000">-6</text>
<text x="115.30" y="424.2" font-size="8.4" text-anchor="middle" fill="#000">-4</text>
<text x="181.00" y="424.2" font-size="8.4" text-anchor="middle" fill="#000">-2</text>
<text x="246.70" y="424.2" font-size="8.4" text-anchor="middle" fill="#000">0</text>
<text x="312.40" y="424.2" font-size="8.4" text-anchor="middle" fill="#000">2</text>
<text x="378.10" y="424.2" font-size="8.4" text-anchor="middle" fill="#000">4</text>
<text x="404.70" y="424.2" font-size="8.4" text-anchor="middle" fill="#000">-4</text>
<text x="470.40" y="424.2" font-size="8.4" text-anchor="middle" fill="#000">-2</text>
<text x="536.10" y="424.2" font-size="8.4" text-anchor="middle" fill="#000">0</text>
<text x="601.80" y="424.2" font-size="8.4" text-anchor="middle" fill="#000">2</text>
<text x="667.50" y="424.2" font-size="8.4" text-anchor="middle" fill="#000">4</text>
<path d="M49.40 406.3V412.7M115.10 406.3V412.7M180.80 406.3V412.7M246.50 406.3V412.7M312.20 406.3V412.7M377.90 406.3V412.7M404.50 406.3V412.7M470.20 406.3V412.7M535.90 406.3V412.7M601.60 406.3V412.7M667.30 406.3V412.7" stroke="#7d7d7d" stroke-width="1" fill="none"/>
<text x="180.2" y="435.6" font-size="8.5" text-anchor="middle" fill="#000">Growth Response (z-scores)</text>
<text x="536.75" y="435.6" font-size="8.45" text-anchor="middle" fill="#000">Growth Response (z-scores)</text>
</svg>
</body></html>
